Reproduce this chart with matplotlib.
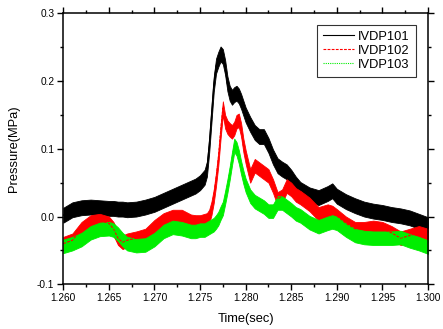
import matplotlib
matplotlib.use("Agg")
import matplotlib.pyplot as plt
from matplotlib.ticker import MultipleLocator, FormatStrFormatter

plt.rcParams['font.family'] = ['Liberation Sans', 'DejaVu Sans']

# Sample times (sec), denser around the pressure peak
time = [1.2600, 1.2610, 1.2620, 1.2630, 1.2640, 1.2650, 1.2655, 1.2660, 1.2665, 1.2670,
        1.2680, 1.2690, 1.2700, 1.2710, 1.2720, 1.2730, 1.2740, 1.2745, 1.2750, 1.2755,
        1.27575, 1.2760, 1.27625, 1.2765, 1.27675, 1.2770, 1.27725, 1.2775, 1.27775, 1.2780,
        1.27825, 1.2785, 1.27875, 1.2790, 1.27925, 1.2795, 1.27975, 1.2800, 1.2805, 1.2810,
        1.2815, 1.2820, 1.2825, 1.2830, 1.2835, 1.2840, 1.2845, 1.2850, 1.2855, 1.2860,
        1.2870, 1.2880, 1.2890, 1.2895, 1.2900, 1.2910, 1.2920, 1.2930, 1.2940, 1.2950,
        1.2960, 1.2970, 1.2980, 1.2990, 1.3000]

ivdp101 = [0.002, 0.010, 0.013, 0.014, 0.013, 0.012, 0.012, 0.011, 0.011, 0.010,
           0.011, 0.014, 0.018, 0.024, 0.030, 0.036, 0.042, 0.045, 0.050, 0.058,
           0.070, 0.105, 0.150, 0.195, 0.222, 0.232, 0.240, 0.236, 0.220, 0.196,
           0.182, 0.176, 0.180, 0.182, 0.178, 0.170, 0.160, 0.150, 0.136, 0.124,
           0.118, 0.118, 0.105, 0.088, 0.075, 0.070, 0.066, 0.058, 0.048, 0.040,
           0.032, 0.028, 0.034, 0.038, 0.030, 0.022, 0.016, 0.011, 0.008, 0.006,
           0.003, 0.001, -0.002, -0.007, -0.012]

ivdp102 = [-0.040, -0.035, -0.018, -0.008, -0.006, -0.010, -0.018, -0.032, -0.038, -0.035,
           -0.032, -0.028, -0.015, -0.005, 0.000, 0.000, -0.007, -0.008, -0.008, -0.006,
           -0.005, 0.000, 0.012, 0.030, 0.055, 0.085, 0.125, 0.160, 0.140, 0.132,
           0.128, 0.125, 0.130, 0.140, 0.142, 0.128, 0.105, 0.088, 0.060, 0.075,
           0.070, 0.065, 0.060, 0.045, 0.026, 0.030, 0.045, 0.040, 0.032, 0.028,
           0.018, 0.004, 0.008, 0.006, 0.001, -0.010, -0.018, -0.018, -0.016, -0.018,
           -0.024, -0.032, -0.028, -0.024, -0.028]

ivdp103 = [-0.044, -0.040, -0.034, -0.024, -0.019, -0.018, -0.020, -0.026, -0.034, -0.040,
           -0.043, -0.042, -0.034, -0.022, -0.016, -0.018, -0.022, -0.022, -0.020, -0.020,
           -0.018, -0.016, -0.014, -0.012, -0.008, -0.003, 0.005, 0.012, 0.028, 0.045,
           0.064, 0.085, 0.105, 0.100, 0.088, 0.072, 0.058, 0.046, 0.030, 0.022,
           0.018, 0.014, 0.008, 0.008, 0.020, 0.020, 0.015, 0.010, 0.004, 0.001,
           -0.009, -0.015, -0.010, -0.008, -0.010, -0.020, -0.028, -0.031, -0.032, -0.032,
           -0.032, -0.031, -0.036, -0.040, -0.045]

# half-width of the signal noise band (MPa)
noise = {'IVDP101': 0.011, 'IVDP102': 0.010, 'IVDP103': 0.010}

series = [
    ('IVDP101', ivdp101, 'black', '-'),
    ('IVDP102', ivdp102, 'red', (0, (2.5, 1.2))),
    ('IVDP103', ivdp103, '#00ee00', (0, (1, 1))),
]

fig = plt.figure(figsize=(4.43, 3.29), dpi=100)
ax = fig.add_axes([0.1429, 0.1359, 0.8232, 0.8237])

for name, vals, color, ls in series:
    lo = [v - noise[name] for v in vals]
    hi = [v + noise[name] for v in vals]
    ax.fill_between(time, lo, hi, color=color, linewidth=0.6)
    ax.plot(time, vals, color=color, linestyle=ls, linewidth=0.8, label=name)

ax.set_xlim(1.26, 1.30)
ax.set_ylim(-0.1, 0.3)
ax.xaxis.set_major_locator(MultipleLocator(0.005))
ax.xaxis.set_minor_locator(MultipleLocator(0.0025))
ax.yaxis.set_major_locator(MultipleLocator(0.1))
ax.yaxis.set_minor_locator(MultipleLocator(0.05))
ax.xaxis.set_major_formatter(FormatStrFormatter('%.3f'))
ax.yaxis.set_major_formatter(FormatStrFormatter('%.1f'))

ax.tick_params(which='both', direction='out', top=True, right=True, width=1.0)
ax.tick_params(which='major', length=4.5, labelsize=7.3, pad=2)
ax.tick_params(which='minor', length=2.5)
for sp in ax.spines.values():
    sp.set_linewidth(1.1)

ax.set_xlabel('Time(sec)', fontsize=9.3, labelpad=7)
ax.set_ylabel('Pressure(MPa)', fontsize=9.3, labelpad=12)

leg = ax.legend(loc='upper right', bbox_to_anchor=(0.966, 0.957), borderaxespad=0,
                fontsize=9.3, frameon=True, fancybox=False, handlelength=2.4,
                handletextpad=0.3, labelspacing=0.15, borderpad=0.45)
leg.get_frame().set_edgecolor('black')
leg.get_frame().set_linewidth(0.8)
for line in leg.get_lines():
    line.set_linewidth(0.8)

fig.savefig('out.png', dpi=100)
